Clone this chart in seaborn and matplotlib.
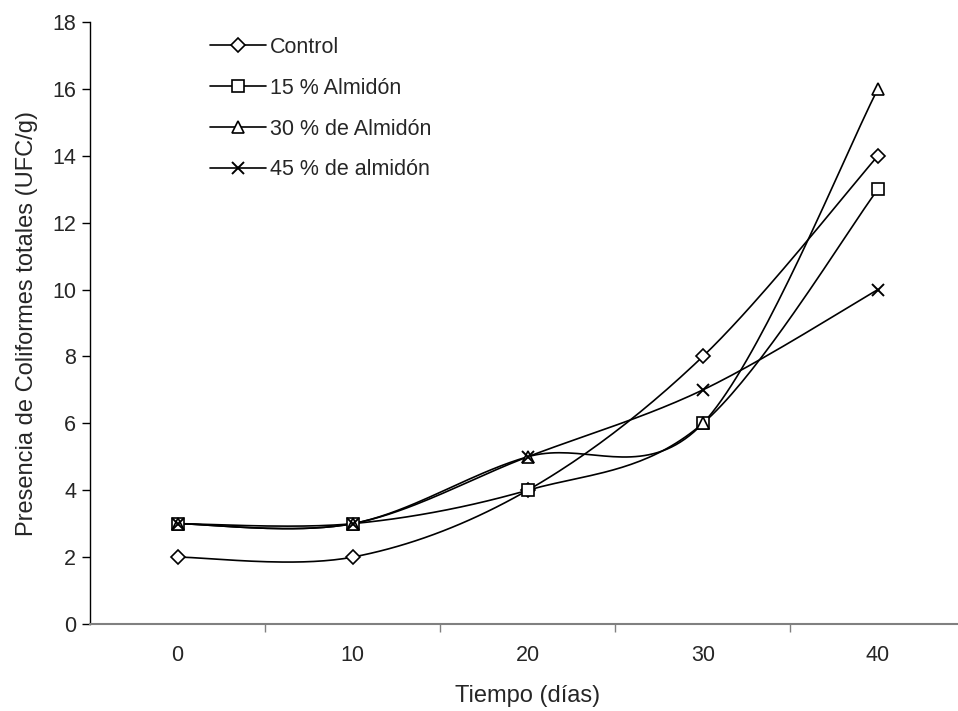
import numpy as np
import pandas as pd
import matplotlib
matplotlib.use("Agg")
import matplotlib.pyplot as plt
from matplotlib.lines import Line2D
import seaborn as sns

# data
dias = [0, 10, 20, 30, 40]
series = ["Control", "15 % Almidón", "30 % de Almidón", "45 % de almidón"]
control = [2, 2, 4, 8, 14]
almidon_15 = [3, 3, 4, 6, 13]
almidon_30 = [3, 3, 5, 6, 16]
almidon_45 = [3, 3, 5, 7, 10]
valores = [control, almidon_15, almidon_30, almidon_45]
marcadores = {"Control": "D", "15 % Almidón": "s",
              "30 % de Almidón": "^", "45 % de almidón": "x"}
tamanos = {"Control": 7.5, "15 % Almidón": 8, "30 % de Almidón": 9, "45 % de almidón": 9}


def suavizar(xs, ys, n=40):
    # Excel-like smoothing: Catmull-Rom curves drawn as cubic Bezier segments
    p = np.column_stack([xs, ys]).astype(float)
    ext = np.vstack([p[0], p, p[-1]])
    out = []
    for i in range(len(p) - 1):
        p0, p1 = p[i], p[i + 1]
        b1 = p0 + (ext[i + 2] - ext[i]) / 6
        b2 = p1 - (ext[i + 3] - ext[i + 1]) / 6
        t = np.linspace(0, 1, n)[:, None]
        seg = ((1 - t) ** 3) * p0 + 3 * ((1 - t) ** 2) * t * b1 + 3 * (1 - t) * t ** 2 * b2 + t ** 3 * p1
        out.append(seg if i == 0 else seg[1:])
    return np.vstack(out)


idx = np.arange(len(dias))
filas = []
for nombre, ys in zip(series, valores):
    curva = suavizar(idx, ys)
    for j, (cx, cy) in enumerate(curva):
        filas.append({"serie": nombre, "orden": j, "x": cx, "y": cy})
curvas = pd.DataFrame(filas)
puntos = pd.DataFrame({"serie": np.repeat(series, len(dias)),
                       "x": np.tile(idx, len(series)),
                       "y": np.concatenate(valores)})

sns.set_style("white")
plt.rcParams["font.family"] = ["Liberation Sans", "DejaVu Sans"]
fs = 15.5
fs_lab = 17

fig = plt.figure(figsize=(9.58, 7.11), dpi=100)
ax = fig.add_axes([90 / 958, 87 / 711, 875.5 / 958, 602 / 711])

sns.lineplot(data=curvas, x="x", y="y", hue="serie", units="serie", estimator=None,
             sort=False, palette=["black"] * 4, linewidth=1.2, legend=False, ax=ax, zorder=2)
for nombre in series:
    sub = puntos[puntos["serie"] == nombre]
    m = marcadores[nombre]
    if m == "x":
        ax.plot(sub["x"], sub["y"], linestyle="none", marker=m, markersize=tamanos[nombre],
                color="black", markeredgewidth=1.4, zorder=3)
    else:
        ax.plot(sub["x"], sub["y"], linestyle="none", marker=m, markersize=tamanos[nombre],
                markerfacecolor="white", markeredgecolor="black", markeredgewidth=1.2, zorder=3)

ax.set_xlim(-0.5, len(dias) - 0.5)
ax.set_ylim(0, 18)
ax.set_yticks(np.arange(0, 19, 2))
ax.set_xticks(idx)
ax.set_xticklabels([str(d) for d in dias])
ax.set_xticks(np.arange(0.5, len(dias), 1), minor=True)
ax.tick_params(axis="x", which="major", length=0, pad=15, labelsize=fs)
ax.tick_params(axis="x", which="minor", length=6, width=1, color="#808080", direction="out")
ax.tick_params(axis="y", length=6, width=1, color="black", direction="out", labelsize=fs, pad=4)
ax.tick_params(bottom=True, left=True, which="both")

for s in ["top", "right"]:
    ax.spines[s].set_visible(False)
ax.spines["left"].set_color("black")
ax.spines["left"].set_linewidth(1)
ax.spines["bottom"].set_color("#808080")
ax.spines["bottom"].set_linewidth(1.5)

ax.set_xlabel("Tiempo (días)", fontsize=fs_lab, labelpad=14)
ax.set_ylabel("Presencia de Coliformes totales (UFC/g)", fontsize=fs_lab, labelpad=10)

handles = []
for nombre in series:
    m = marcadores[nombre]
    if m == "x":
        h = Line2D([0], [0], color="black", lw=1.2, marker=m, markersize=tamanos[nombre],
                   markeredgewidth=1.4)
    else:
        h = Line2D([0], [0], color="black", lw=1.2, marker=m, markersize=tamanos[nombre],
                   markerfacecolor="white", markeredgecolor="black", markeredgewidth=1.2)
    handles.append(h)
fig.legend(handles, series, loc="upper left", bbox_to_anchor=(210 / 958, 1 - 37 / 711),
           frameon=False, fontsize=fs, handlelength=2.6, handletextpad=0.2,
           labelspacing=0.92, borderaxespad=0, borderpad=0)

fig.savefig("out.png", dpi=100)
